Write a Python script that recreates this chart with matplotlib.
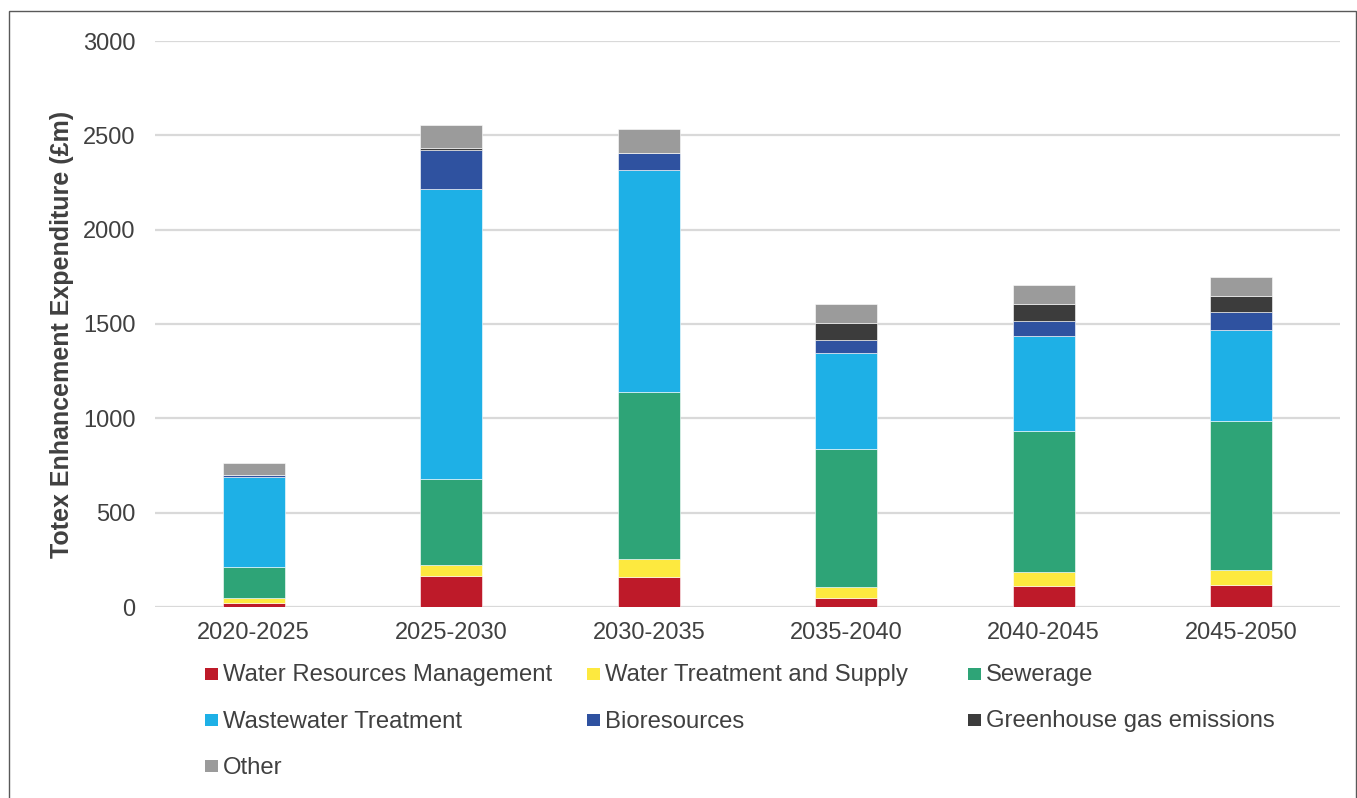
import matplotlib
matplotlib.use("Agg")
import matplotlib.pyplot as plt
from matplotlib.patches import Rectangle
import numpy as np

plt.rcParams['font.family'] = ['Liberation Sans', 'DejaVu Sans']

periods = ["2020-2025", "2025-2030", "2030-2035", "2035-2040", "2040-2045", "2045-2050"]
series_names = ["Water Resources Management", "Water Treatment and Supply", "Sewerage",
                "Wastewater Treatment", "Bioresources", "Greenhouse gas emissions", "Other"]
water_resources = [23, 164, 160, 49, 113, 117]
water_treatment = [25, 57, 96, 59, 74, 79]
sewerage = [162, 456, 882, 731, 747, 788]
wastewater = [480, 1537, 1178, 507, 502, 484]
bioresources = [10, 206, 89, 69, 81, 94]
ghg = [0, 12, 0, 89, 90, 88]
other = [65, 123, 128, 103, 100, 101]
yticks = [0, 500, 1000, 1500, 2000, 2500, 3000]

colors = ["#BE1A29", "#FDE93F", "#2EA477", "#1EB0E6", "#2F52A0", "#3C3C3C", "#9B9B9B"]
series = [water_resources, water_treatment, sewerage, wastewater, bioresources, ghg, other]

W, H = 1357, 798
fig = plt.figure(figsize=(W / 100, H / 100), dpi=100)
ax = fig.add_axes([155 / W, 1 - 607 / H, (1340 - 155) / W, (607 - 41) / H])

x = np.arange(len(periods))
bottom = np.zeros(len(periods))
for vals, col, name in zip(series, colors, series_names):
    v = np.array(vals, dtype=float)
    ax.bar(x, v, bottom=bottom, width=0.314, color=col, edgecolor="#ffffff",
           linewidth=0.4, label=name, zorder=3)
    bottom += v

ax.set_xlim(-0.5, len(periods) - 0.5)
ax.set_ylim(0, 3000)
ax.set_yticks(yticks)
ax.set_yticklabels([str(t) for t in yticks])
ax.set_xticks(x)
ax.set_xticklabels(periods)
ax.tick_params(axis='both', length=0, labelsize=17, colors="#404040")
ax.tick_params(axis='x', pad=11)
ax.tick_params(axis='y', pad=14)
ax.grid(axis='y', color="#D9D9D9", linewidth=1.6, zorder=0)
for s in ax.spines.values():
    s.set_visible(False)

fig.text(62 / W, 1 - 334 / H, "Totex Enhancement Expenditure (£m)", rotation=90,
         ha='center', va='center', fontsize=18, fontweight='bold', color="#404040")

# legend (row-major, 3 columns)
col_x = [205, 587, 968]
row_base = [681.5, 727.5, 773.5]
msize = 12.7
for i, (name, col) in enumerate(zip(series_names, colors)):
    r, c = divmod(i, 3)
    mx = col_x[c]
    yc = row_base[r] - 7.5
    fig.patches.append(Rectangle((mx / W, 1 - (yc + msize / 2) / H), msize / W, msize / H,
                                 transform=fig.transFigure, facecolor=col, edgecolor='none'))
    fig.text((mx + 18) / W, 1 - row_base[r] / H, name, ha='left', va='baseline',
             fontsize=17.2, color="#404040")

# outer border
fig.patches.append(Rectangle((9 / W, -0.01), (1356 - 9) / W, 1 - 11 / H + 0.01,
                             transform=fig.transFigure, facecolor='none',
                             edgecolor="#595959", linewidth=1))

fig.savefig("out.png", dpi=100)
